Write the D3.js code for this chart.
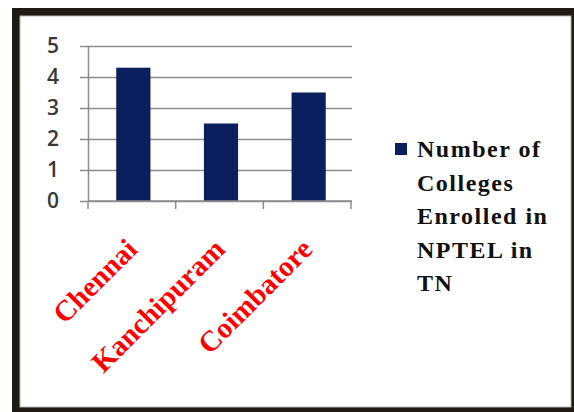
<!DOCTYPE html>
<html>
<head>
<meta charset="utf-8">
<script src="https://cdn.jsdelivr.net/npm/d3@7"></script>
<style>
  html, body { margin: 0; padding: 0; background: #fff; }
  svg { display: block; }
</style>
</head>
<body>
<svg id="chart" width="574" height="412"></svg>
<script>
// District-wise count of colleges enrolled in NPTEL (Tamil Nadu)
const categories = ["Chennai", "Kanchipuram", "Coimbatore"];
const values = [4.3, 2.5, 3.5];
const yTicks = [0, 1, 2, 3, 4, 5];
const legendLines = ["Number of", "Colleges", "Enrolled in", "NPTEL in", "TN"];

const svg = d3.select("#chart");
const barColor = "#0b1f5e";
const gridColor = "#8c8c8c";

// Outer frame: thick dark border with a thin grey inner edge
svg.append("rect").attr("x", 12).attr("y", 8).attr("width", 600).attr("height", 440)
  .attr("fill", "#1e1b14");
svg.append("rect").attr("x", 20).attr("y", 16).attr("width", 551).attr("height", 391)
  .attr("fill", "#fff").attr("stroke", "#b4b4b4").attr("stroke-width", 1);

const plot = { left: 88, right: 351, top: 46, bottom: 201 };

const x = d3.scaleBand().domain(categories).range([plot.left, plot.right]).padding(0);
const y = d3.scaleLinear().domain([0, 5]).range([plot.bottom, plot.top]);

// Horizontal gridlines (extend left past the axis as tick marks)
const grid = svg.append("g").attr("transform", `translate(${plot.left},0)`)
  .call(d3.axisLeft(y).tickValues(yTicks).tickSizeInner(-(plot.right + 1 - plot.left)).tickSizeOuter(0).tickFormat(""));
grid.select(".domain").remove();
grid.selectAll(".tick line").attr("stroke", gridColor).attr("stroke-width", 1.5);

// Y axis with tick marks and labels
const yAxis = svg.append("g").attr("transform", `translate(${plot.left},0)`)
  .call(d3.axisLeft(y).tickValues(yTicks).tickSizeInner(8).tickSizeOuter(0).tickPadding(21).tickFormat(d3.format("d")));
yAxis.select(".domain").attr("stroke", gridColor).attr("stroke-width", 1.5);
yAxis.selectAll(".tick line").attr("stroke", gridColor).attr("stroke-width", 1.5);
yAxis.selectAll(".tick text")
  .attr("font-family", "'Open Sans', sans-serif")
  .attr("font-size", 21).attr("font-weight", 600).attr("fill", "#383838");

// Bars
const barWidth = x.bandwidth() * 0.39;
svg.append("g").selectAll("rect").data(values).join("rect")
  .attr("x", (d, i) => x(categories[i]) + x.bandwidth() / 2 - barWidth / 2 + 1.5)
  .attr("y", d => y(d))
  .attr("width", barWidth)
  .attr("height", d => y(0) - y(d))
  .attr("fill", barColor);

// X axis with ticks at category boundaries
const boundaries = categories.map(c => x(c)).concat([x(categories[categories.length - 1]) + x.bandwidth()]);
const xAxis = svg.append("g");
xAxis.append("line").attr("x1", plot.left).attr("x2", plot.right + 1)
  .attr("y1", y(0)).attr("y2", y(0)).attr("stroke", gridColor).attr("stroke-width", 1.5);
xAxis.selectAll("line.tick").data(boundaries).join("line").attr("class", "tick")
  .attr("x1", d => d).attr("x2", d => d)
  .attr("y1", y(0)).attr("y2", y(0) + 8)
  .attr("stroke", gridColor).attr("stroke-width", 1.5);

// Rotated category labels
svg.append("g").selectAll("text").data(categories).join("text")
  .attr("transform", c => `translate(${x(c) + x.bandwidth() / 2 + 7},251) rotate(-45)`)
  .attr("text-anchor", "end")
  .attr("font-family", "'Liberation Serif', 'Times New Roman', serif")
  .attr("font-weight", "bold").attr("font-size", 29)
  .attr("fill", "#ff0000")
  .text(c => c);

// Legend
const legend = svg.append("g");
legend.append("rect").attr("x", 395).attr("y", 143).attr("width", 12).attr("height", 12).attr("fill", barColor);
legend.selectAll("text").data(legendLines).join("text")
  .attr("x", 417).attr("y", (d, i) => 157 + i * 33.5)
  .attr("font-family", "'Liberation Serif', 'Times New Roman', serif")
  .attr("font-weight", "bold").attr("font-size", 24)
  .attr("letter-spacing", 1.5)
  .attr("fill", "#111")
  .text(d => d);
</script>
</body>
</html>
